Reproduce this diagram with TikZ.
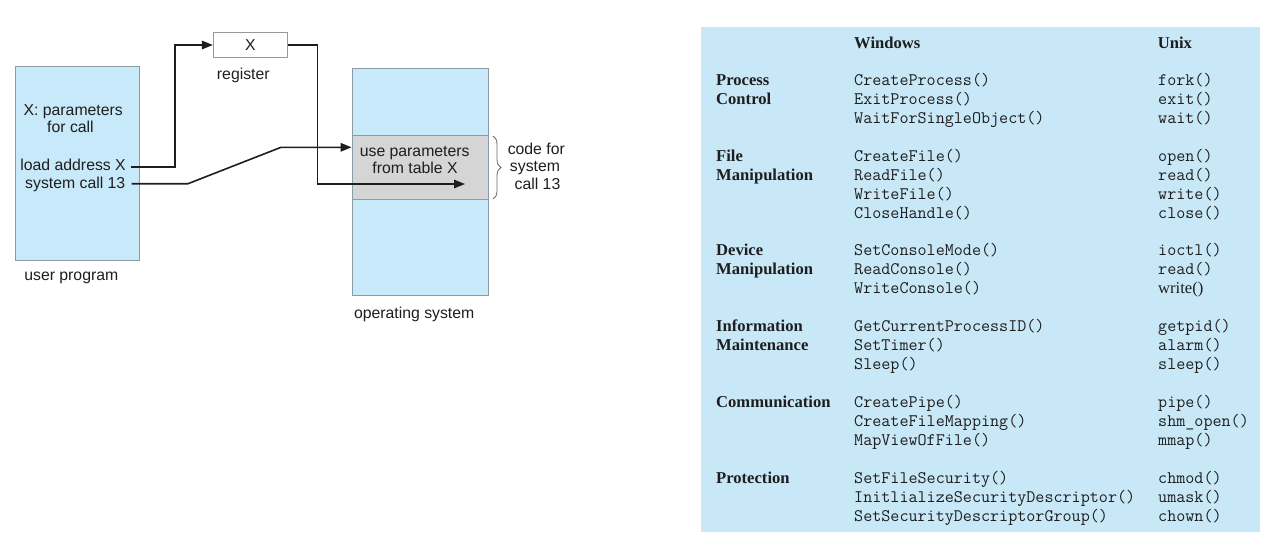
\documentclass[tikz,border=0pt]{standalone}
\usepackage{fontspec}
\setmainfont{Liberation Serif}
\setsansfont{Liberation Sans}
\usetikzlibrary{arrows.meta,decorations.pathreplacing}
\definecolor{boxblue}{HTML}{C8E9F9}
\definecolor{tabblue}{HTML}{C8E8F8}
\definecolor{bandgray}{HTML}{D5D5D5}
\definecolor{edgegray}{HTML}{8C9CA4}
\definecolor{txt}{HTML}{1E1E1E}
\begin{document}
\begin{tikzpicture}[x=1pt,y=-1pt,
  ubox/.style={draw=edgegray, line width=0.9pt, fill=boxblue, inner sep=0pt},
  gband/.style={draw=edgegray, line width=0.9pt, fill=bandgray, inner sep=0pt},
  regbox/.style={draw=gray!80, line width=0.9pt, fill=white, inner sep=0pt,
     minimum width=74pt, minimum height=24.6pt, text=txt,
     font=\sffamily\fontsize{15.8}{18}\selectfont},
  lbl/.style={font=\sffamily\fontsize{15.8}{18}\selectfont, inner sep=0pt, text=txt},
  conn/.style={line width=1.6pt, draw=txt, -{Triangle[length=11pt,width=8.5pt]}},
  thead/.style={font=\fontsize{16.6}{18}\selectfont\bfseries, anchor=base west, inner sep=0pt, text=txt},
  troman/.style={font=\fontsize{16.6}{18}\selectfont, anchor=base west, inner sep=0pt, text=txt},
  tcode/.style={font=\fontsize{17.6}{19}\selectfont\ttfamily, anchor=base west, inner sep=0pt, text=txt}
]
\useasboundingbox (0,0) rectangle (1280,558);

% ---------------- left diagram ----------------
\node[ubox, minimum width=124pt, minimum height=194pt] (up) at (77.3,163.7) {};
\node[ubox, minimum width=136.7pt, minimum height=227.4pt] (os) at (420.35,182) {};
\node[gband, minimum width=136.7pt, minimum height=64.3pt] (band) at (420.35,167.15) {};
\node[regbox] (reg) at (250.3,45) {X};

\node[lbl, anchor=base] (xp) at (73.2,115) {X: parameters};
\node[lbl, anchor=base] (fc) at (70.5,132.7) {for call};
\node[lbl, anchor=base east] (la) at (126,170) {load address X};
\node[lbl, anchor=base east] (sc) at (125.5,188) {system call 13};
\node[lbl, anchor=base] (upl) at (71.3,280.7) {user program};
\node[lbl, anchor=base] (regl) at (243.3,79) {register};
\node[lbl, anchor=base] (use1) at (414.7,156.7) {use parameters};
\node[lbl, anchor=base] (use2) at (415,173.3) {from table X};
\node[lbl, anchor=base] (cf1) at (536.3,154) {code for};
\node[lbl, anchor=base] (cf2) at (535,171.3) {system};
\node[lbl, anchor=base] (cf3) at (537.5,189.3) {call 13};
\node[lbl, anchor=base] (osl) at (414.2,318.3) {operating system};

\coordinate (lastart) at (130.7,166.7);
\coordinate (scstart) at (131.7,183.7);
\coordinate (scknee) at (188,183.7);
\coordinate (bend) at (281,147.3);
\coordinate (tip) at (465,184);

\draw[conn] (lastart) -- (175,166.7) |- (reg.west);
\draw[conn] (reg.east) -| (317.3,184) -- (tip);
\draw[conn] (scstart) -- (scknee) -- (bend) -- (bend -| os.west);

\draw[draw=gray!80!black, line width=0.8pt, decorate,
      decoration={brace, amplitude=8pt}] (493,136) -- (493,199);

% ---------------- table ----------------
\fill[tabblue] (700.7,27.3) rectangle (1260,532.3);

\node[thead] (hw) at (854,48.3) {Windows};
\node[thead] (hu) at (1157.7,48.3) {Unix};

% Process control
\node[thead] (l1a) at (716,85.7) {Process};
\node[thead] (l1b) at (716,104.5) {Control};
\node[tcode] (w11) at (854,85.7) {CreateProcess()};
\node[tcode] (w12) at (854,104.5) {ExitProcess()};
\node[tcode] (w13) at (854,123.3) {WaitForSingleObject()};
\node[tcode] (u11) at (1158,85.7) {fork()};
\node[tcode] (u12) at (1158,104.5) {exit()};
\node[tcode] (u13) at (1158,123.3) {wait()};

% File manipulation
\node[thead] (l2a) at (716,161.7) {File};
\node[thead] (l2b) at (716,180.5) {Manipulation};
\node[tcode] (w21) at (854,161.7) {CreateFile()};
\node[tcode] (w22) at (854,180.5) {ReadFile()};
\node[tcode] (w23) at (854,199.3) {WriteFile()};
\node[tcode] (w24) at (854,218.1) {CloseHandle()};
\node[tcode] (u21) at (1158,161.7) {open()};
\node[tcode] (u22) at (1158,180.5) {read()};
\node[tcode] (u23) at (1158,199.3) {write()};
\node[tcode] (u24) at (1158,218.1) {close()};

% Device manipulation
\node[thead] (l3a) at (716,255.7) {Device};
\node[thead] (l3b) at (716,274.5) {Manipulation};
\node[tcode] (w31) at (854,255.7) {SetConsoleMode()};
\node[tcode] (w32) at (854,274.5) {ReadConsole()};
\node[tcode] (w33) at (854,293.3) {WriteConsole()};
\node[tcode] (u31) at (1158,255.7) {ioctl()};
\node[tcode] (u32) at (1158,274.5) {read()};
\node[troman] (u33) at (1158,293.3) {write()};

% Information maintenance
\node[thead] (l4a) at (716,331.7) {Information};
\node[thead] (l4b) at (716,350.5) {Maintenance};
\node[tcode] (w41) at (854,331.7) {GetCurrentProcessID()};
\node[tcode] (w42) at (854,350.5) {SetTimer()};
\node[tcode] (w43) at (854,369.3) {Sleep()};
\node[tcode] (u41) at (1158,331.7) {getpid()};
\node[tcode] (u42) at (1158,350.5) {alarm()};
\node[tcode] (u43) at (1158,369.3) {sleep()};

% Communication
\node[thead] (l5a) at (716,407.7) {Communication};
\node[tcode] (w51) at (854,407.7) {CreatePipe()};
\node[tcode] (w52) at (854,426.5) {CreateFileMapping()};
\node[tcode] (w53) at (854,445.3) {MapViewOfFile()};
\node[tcode] (u51) at (1158,407.7) {pipe()};
\node[tcode] (u52) at (1158,426.5) {shm\_open()};
\node[tcode] (u53) at (1158,445.3) {mmap()};

% Protection
\node[thead] (l6a) at (716,483.7) {Protection};
\node[tcode] (w61) at (854,483.7) {SetFileSecurity()};
\node[tcode] (w62) at (854,502.5) {InitlializeSecurityDescriptor()};
\node[tcode] (w63) at (854,521.3) {SetSecurityDescriptorGroup()};
\node[tcode] (u61) at (1158,483.7) {chmod()};
\node[tcode] (u62) at (1158,502.5) {umask()};
\node[tcode] (u63) at (1158,521.3) {chown()};
\end{tikzpicture}
\end{document}
